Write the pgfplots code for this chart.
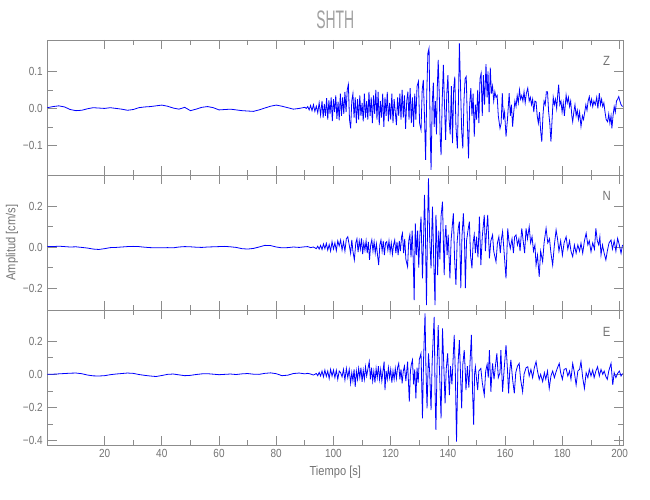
\documentclass[border=0pt]{standalone}
\usepackage{fontspec}
\setmainfont[FakeStretch=0.85]{Liberation Sans}
\newfontfamily\titlefont[FakeStretch=0.55]{Liberation Sans}
\usepackage{pgfplots}
\pgfplotsset{compat=1.18}
\usepackage{pgfplotstable}
\definecolor{axgray}{RGB}{140,140,140}
\definecolor{txtgray}{RGB}{115,115,115}
\definecolor{titlegray}{RGB}{160,160,160}
\pgfplotsset{
  seis/.style={
    scale only axis, width=432pt, height=101.25pt,
    xmin=0, xmax=201.3,
    xtick={20,40,...,200}, minor x tick num=1,
    axis line style={axgray, line width=0.6pt},
    tick style={axgray, line width=0.6pt},
    major tick length=7pt, minor tick length=4pt,
    minor y tick num=1,
    tick label style={font=\fontsize{8.8}{9}\selectfont, text=txtgray},
    label style={font=\fontsize{9.8}{10}\selectfont, text=txtgray},
  },
  trace/.style={blue, line width=0.6pt},
}
\begin{document}
\pgfplotstableread{
t v
0 0.002
2 0.005
4 0.007
6 0.004
8 -0.003
10 -0.006
12 -0.005
14 -0.001
16 0.002
18 0.001
20 0.0
22 0.002
24 0.0
26 -0.002
28 -0.005
30 -0.003
32 0.002
34 0.004
36 0.005
38 0.007
40 0.009
42 0.006
44 0.001
46 -0.002
48 0.003
50 -0.006
52 -0.002
54 0.003
56 0.005
58 0.002
60 -0.004
62 -0.003
64 -0.002
66 -0.004
68 -0.006
70 -0.007
72 -0.008
74 -0.004
76 0.001
78 0.006
80 0.009
82 0.006
84 0.002
86 -0.002
88 0.0
90.0 0.003
90.5 0.000
91.0 0.005
91.5 -0.004
92.0 0.008
92.5 -0.006
93.0 0.010
93.5 -0.008
94.0 0.006
94.5 -0.012
95.0 0.015
95.5 -0.018
96.0 0.020
96.4 -0.025
96.8 0.012
97.2 -0.020
97.6 0.028
98.0 -0.030
98.4 0.022
98.8 -0.015
99.2 0.030
99.6 -0.034
100.0 0.025
100.4 -0.010
100.8 0.035
101.2 -0.028
101.6 0.018
102.0 -0.032
102.4 0.040
102.8 -0.020
103.2 0.030
103.6 -0.015
104.0 0.045
104.4 -0.010
104.8 0.050
105.2 0.065
105.6 -0.030
106.0 -0.054
106.4 0.020
106.8 0.040
107.2 -0.025
107.6 0.030
108.0 -0.040
108.4 0.025
108.8 -0.030
109.2 0.035
109.6 -0.020
110.0 0.015
110.4 -0.035
110.8 0.040
111.2 -0.025
111.6 0.020
112.0 -0.030
112.4 0.045
112.8 -0.020
113.2 0.030
113.6 -0.040
114.0 0.035
114.4 -0.015
114.8 0.050
115.2 -0.030
115.6 0.045
116.0 -0.045
116.4 0.020
116.8 -0.025
117.2 0.040
117.6 -0.050
118.0 0.030
118.4 -0.020
118.8 0.045
119.2 -0.035
119.6 0.015
120.0 -0.030
120.4 0.040
120.8 -0.040
121.2 0.025
121.6 -0.010
122.0 -0.045
122.4 0.030
122.8 -0.020
123.2 0.040
123.6 -0.030
124.0 0.050
124.4 -0.025
124.8 0.035
125.2 -0.055
125.6 0.020
126.0 0.045
126.4 -0.030
126.8 0.055
127.2 -0.040
127.6 0.030
128.0 -0.050
128.4 0.040
128.8 -0.030
129.2 0.060
129.7 0.073
130.1 -0.040
130.6 -0.058
131.0 0.050
131.4 0.077
131.8 -0.020
132.2 -0.139
132.6 0.040
133.0 0.150
133.4 0.163
133.8 -0.060
134.1 -0.166
134.5 0.010
134.9 0.070
135.2 -0.050
135.6 0.020
136.0 -0.070
136.3 0.060
136.6 0.131
137.0 0.030
137.3 -0.080
137.6 -0.126
138.0 0.020
138.4 0.118
138.8 0.010
139.2 -0.085
139.6 0.040
140.0 0.090
140.4 -0.030
140.8 -0.070
141.2 0.060
141.6 -0.094
142.0 0.050
142.4 0.086
142.8 -0.050
143.3 -0.108
143.7 0.030
144.0 0.176
144.4 0.060
144.8 -0.060
145.2 -0.108
145.6 0.020
146.0 0.080
146.4 0.086
146.8 -0.040
147.2 -0.135
147.6 0.010
148.0 0.055
148.4 -0.020
148.8 0.040
149.2 -0.076
149.6 0.010
150.0 -0.030
150.4 0.050
150.8 -0.040
151.2 0.080
151.6 0.095
152.0 -0.020
152.4 0.090
152.8 0.010
153.3 0.120
153.7 0.030
154.0 0.100
154.4 -0.010
154.8 0.110
155.2 0.040
155.6 0.060
156.0 0.020
156.4 0.045
156.8 0.030
157.2 0.035
157.6 -0.020
158.2 -0.054
158.6 -0.040
159.0 0.041
159.4 -0.030
159.8 -0.010
160.3 -0.076
160.8 -0.030
161.4 0.041
161.8 -0.020
162.2 0.010
162.6 -0.049
163.0 -0.010
163.4 0.020
163.8 0.005
164.2 0.035
164.6 0.015
165.0 0.050
165.4 0.025
165.8 0.035
166.2 0.020
166.6 0.045
167.0 0.015
167.4 0.040
167.9 0.055
168.4 0.020
168.8 0.030
169.2 0.010
169.6 0.025
170.0 -0.010
170.4 0.020
170.8 0.018
171.2 -0.020
171.6 -0.040
172.0 -0.010
172.4 -0.060
172.8 -0.090
173.2 -0.020
173.6 0.020
174.0 0.010
174.4 0.045
174.8 0.045
175.2 -0.010
175.6 -0.040
176.0 -0.090
176.4 -0.030
176.8 0.030
177.2 0.010
177.6 0.025
178.0 0.000
178.4 0.040
178.7 0.064
179.1 0.010
179.5 0.020
179.9 -0.010
180.3 0.015
180.7 -0.020
181.3 0.036
181.7 0.015
182.1 0.030
182.5 0.005
182.9 0.020
183.3 -0.020
183.6 -0.036
184.0 -0.010
184.4 0.010
184.8 -0.020
185.2 -0.005
185.6 -0.030
186.0 -0.010
186.5 -0.049
187.0 -0.020
187.4 -0.030
187.8 -0.010
188.2 0.010
188.6 -0.005
189.0 0.020
189.4 0.032
189.8 0.010
190.2 0.025
190.6 0.005
191.0 0.020
191.5 0.010
192.0 0.030
192.4 0.000
192.9 0.041
193.3 0.010
193.7 0.025
194.1 0.005
194.5 0.015
194.9 -0.010
195.3 -0.030
195.8 -0.036
196.2 -0.015
196.6 -0.040
197.0 -0.020
197.3 -0.054
197.7 -0.020
198.1 0.005
198.5 -0.010
198.9 0.020
199.3 0.025
199.7 0.032
200.1 0.020
200.5 0.010
201.0 0.005
}\Ztab
\pgfplotstableread{
t v
0 0.003
2 0.002
4 0.004
6 0.002
8 0.0
10 0.001
12 -0.002
14 -0.005
16 -0.010
18 -0.012
20 -0.008
22 -0.003
24 -0.002
26 0.0
28 0.002
30 0.003
32 0.002
34 -0.001
36 -0.003
38 -0.004
40 -0.004
42 -0.003
44 -0.004
46 0.0
48 0.002
50 0.001
52 -0.001
54 -0.002
56 0.0
58 0.001
60 0.002
62 0.003
64 0.001
66 -0.002
68 -0.008
70 -0.010
72 -0.007
74 0.0
76 0.008
78 0.007
80 0.0
82 -0.004
84 -0.003
86 0.0
88 -0.002
90.0 0.001
91.0 0.002
92.0 -0.003
93.0 0.000
94.0 -0.008
94.5 0.004
95.0 -0.010
95.5 0.008
96.0 -0.012
96.5 0.015
97.0 -0.008
97.5 0.018
98.0 -0.015
98.5 0.012
99.0 -0.020
99.5 0.026
100.0 -0.010
100.5 0.020
101.0 -0.018
101.5 0.030
102.0 0.005
102.5 0.034
103.0 -0.015
103.5 0.025
104.0 -0.020
104.5 0.040
105.0 0.050
105.5 0.010
106.0 -0.031
106.4 0.035
106.8 -0.020
107.3 -0.063
107.8 0.020
108.2 0.040
108.6 -0.025
109.0 0.030
109.4 -0.010
109.8 0.042
110.2 -0.035
110.6 0.020
111.0 -0.015
111.4 0.030
111.8 -0.030
112.2 0.025
112.6 -0.063
113.0 0.010
113.4 0.035
113.8 -0.020
114.2 0.026
114.6 -0.030
115.0 0.015
115.4 -0.040
115.8 -0.088
116.2 0.010
116.6 0.034
117.0 -0.020
117.4 0.030
117.8 -0.039
118.2 0.020
118.6 0.026
119.0 -0.015
119.4 0.030
119.8 -0.025
120.2 0.020
120.6 -0.035
121.0 0.010
121.4 0.034
121.8 -0.030
122.2 0.025
122.6 -0.040
123.0 0.030
123.4 -0.020
123.8 0.050
124.1 0.067
124.5 -0.030
124.9 0.040
125.3 -0.060
125.9 -0.096
126.3 0.030
126.7 0.060
127.1 -0.050
127.5 0.080
127.9 -0.070
128.2 -0.259
128.6 0.115
129.0 -0.040
129.4 0.080
129.8 -0.100
130.2 0.060
130.6 0.148
131.1 -0.153
131.5 0.050
131.8 0.254
132.1 0.100
132.5 -0.283
132.9 0.120
133.2 0.335
133.6 0.050
134.1 -0.104
134.4 0.100
134.6 0.197
135.0 -0.050
135.5 -0.283
135.8 0.156
136.1 0.050
136.4 -0.137
136.8 0.080
137.2 -0.060
137.6 0.150
138.1 0.221
138.4 0.030
138.7 -0.137
139.0 0.050
139.3 0.107
139.7 -0.040
140.1 0.060
140.7 -0.153
141.1 0.030
141.5 0.100
141.9 0.164
142.3 -0.050
142.8 -0.185
143.2 0.020
143.6 0.090
144.0 0.124
144.5 -0.200
144.9 0.050
145.4 0.164
145.8 0.020
146.1 -0.200
146.5 0.030
147.0 0.080
147.5 0.124
147.9 -0.040
148.4 -0.104
148.8 0.020
149.2 0.060
149.6 -0.030
150.0 0.050
150.5 -0.050
151.0 0.148
151.5 -0.088
152.0 0.050
152.7 0.156
153.1 -0.020
153.5 0.080
153.9 0.156
154.5 -0.055
155.0 0.030
155.6 0.059
156.0 -0.020
156.8 -0.072
157.3 0.020
157.8 0.050
158.3 -0.030
158.7 0.040
159.1 0.075
159.6 -0.020
160.3 -0.153
160.9 0.091
161.3 0.030
161.8 -0.007
162.4 0.040
162.9 -0.030
163.3 0.050
163.8 0.059
164.3 0.010
164.8 0.040
165.2 -0.020
165.8 0.091
166.3 0.030
166.8 -0.030
167.3 0.091
167.8 0.040
168.4 0.099
168.9 0.020
169.4 0.050
169.9 -0.020
170.4 0.010
170.8 -0.088
171.3 -0.040
171.9 -0.145
172.4 -0.020
173.1 -0.072
173.6 0.020
174.3 0.091
174.9 0.020
175.5 0.040
176.0 -0.030
176.6 -0.088
177.2 0.010
177.8 0.083
178.3 0.040
178.8 -0.020
179.4 0.030
180.0 -0.040
180.6 0.020
181.3 0.050
181.9 -0.010
182.5 0.030
183.0 -0.020
183.6 -0.047
184.2 0.010
184.8 -0.030
185.4 0.010
186.0 -0.020
186.5 0.018
187.1 -0.030
187.7 0.030
188.3 0.067
188.9 0.010
189.4 0.030
190.0 -0.023
190.6 0.020
191.2 -0.010
191.7 0.091
192.2 0.030
192.7 0.010
193.1 0.050
193.5 -0.039
194.0 0.010
194.6 -0.030
195.2 -0.063
195.7 -0.020
196.3 0.020
197.0 0.034
197.5 -0.010
198.1 0.030
198.7 -0.020
199.3 0.042
199.9 0.010
200.5 -0.031
201.0 0.010
}\Ntab
\pgfplotstableread{
t v
0 0.0
2 0.001
4 0.003
6 0.005
8 0.007
10 0.008
12 0.004
14 -0.004
16 -0.009
18 -0.010
20 -0.008
22 -0.002
24 0.002
26 0.005
28 0.008
30 0.006
32 -0.001
34 -0.006
36 -0.010
38 -0.013
40 -0.007
42 0.0
44 0.002
46 -0.003
48 -0.008
50 -0.006
52 -0.001
54 0.003
56 0.004
58 0.001
60 -0.002
62 0.0
64 0.002
66 -0.001
68 0.003
70 0.005
72 0.001
74 0.0
76 0.006
78 0.009
80 0.004
82 -0.008
84 -0.005
86 0.005
88 0.008
90.0 0.003
91.0 0.006
92.0 0.002
93.0 -0.004
94.0 0.005
94.5 -0.008
95.0 0.012
95.5 -0.010
96.0 0.020
96.5 -0.015
97.0 0.026
97.5 -0.012
98.0 0.020
98.5 -0.025
99.0 0.030
99.5 -0.010
100.0 0.026
100.5 -0.020
101.0 0.025
101.5 -0.030
102.0 0.020
102.5 0.010
103.0 -0.015
103.5 0.030
104.0 -0.034
104.5 0.036
105.0 -0.020
105.5 0.030
106.0 -0.054
106.4 0.010
106.8 -0.040
107.2 0.030
107.6 -0.075
108.0 0.020
108.4 -0.030
108.8 0.036
109.2 -0.020
109.6 0.040
110.0 -0.045
110.4 0.025
110.8 -0.030
111.2 0.046
111.6 -0.010
112.0 0.030
112.5 0.077
112.9 -0.030
113.3 0.040
113.7 -0.040
114.1 0.020
114.5 -0.050
114.9 0.036
115.3 -0.020
115.7 0.050
116.1 -0.030
116.5 0.030
116.9 -0.040
117.3 0.020
117.7 0.077
118.0 -0.095
118.4 0.020
118.8 -0.030
119.2 0.040
119.6 -0.020
120.0 0.030
120.4 -0.050
120.8 0.020
121.2 -0.030
121.6 0.036
122.0 -0.025
122.4 0.040
122.8 0.066
123.2 -0.030
123.6 0.030
124.0 -0.054
124.4 0.020
124.8 0.050
125.3 -0.040
125.9 0.077
126.5 -0.165
126.9 0.020
127.2 0.060
127.6 0.087
128.0 -0.060
128.4 0.030
128.8 -0.145
129.2 0.040
129.6 -0.050
130.0 0.090
130.6 0.127
131.1 -0.266
131.5 0.100
132.0 0.369
132.3 0.050
132.7 -0.205
133.2 0.127
133.6 0.020
134.1 -0.216
134.5 0.080
134.8 0.200
135.2 0.348
135.5 -0.100
135.8 -0.336
136.2 0.050
136.6 0.298
137.0 0.050
137.6 -0.266
138.1 0.278
138.5 0.080
139.0 -0.175
139.4 0.030
139.9 0.127
140.5 -0.125
140.9 0.050
141.4 -0.060
142.2 0.238
142.6 0.000
143.0 -0.407
143.5 0.050
144.0 0.207
144.4 0.000
144.8 -0.205
145.2 0.060
145.7 0.147
146.1 0.000
146.3 -0.095
146.8 0.050
147.3 -0.080
147.8 0.100
148.2 0.238
148.6 -0.100
149.0 -0.306
149.3 0.000
149.6 0.046
150.0 -0.030
150.4 -0.095
150.8 0.020
151.5 0.036
152.0 -0.050
152.7 -0.125
153.2 0.020
153.7 0.060
154.1 -0.020
154.5 0.147
155.0 -0.105
155.4 0.020
155.6 0.066
156.1 -0.030
156.6 0.050
157.1 0.127
157.6 -0.020
158.2 0.010
158.5 0.147
159.1 -0.105
159.6 0.020
160.3 0.177
160.8 0.030
161.2 -0.115
161.6 0.020
162.0 0.087
162.6 -0.030
163.2 -0.115
163.7 0.010
164.3 0.050
164.9 0.066
165.4 -0.030
166.1 -0.105
166.6 0.000
167.3 0.040
167.9 0.046
168.4 -0.010
169.0 0.030
169.6 -0.020
170.2 0.040
170.8 0.077
171.3 0.020
171.9 -0.030
172.4 0.000
173.1 -0.044
173.7 0.010
174.2 -0.030
174.8 0.020
175.4 -0.085
176.0 -0.010
176.6 0.020
177.2 -0.020
177.8 0.016
178.3 0.040
178.9 0.066
179.4 0.010
180.0 -0.030
180.6 0.030
181.3 0.036
181.9 -0.010
182.5 0.020
183.0 -0.030
183.6 0.066
184.2 0.010
184.8 -0.064
185.4 0.020
186.0 0.030
186.5 0.077
187.1 -0.020
187.7 -0.085
188.3 0.010
188.9 -0.020
189.4 0.030
190.0 -0.010
190.6 0.026
191.1 -0.020
191.7 0.020
192.3 0.046
192.9 -0.010
193.5 0.030
194.1 0.000
194.6 0.020
195.2 -0.014
195.7 -0.030
196.2 0.020
197.0 0.066
197.6 -0.064
198.1 0.010
198.7 -0.020
199.3 0.006
199.9 0.020
200.5 -0.010
201.0 0.005
}\Etab
\begin{tikzpicture}
\path[use as bounding box] (0,0) rectangle (487.5pt,375pt);
\begin{axis}[seis, at={(35.5pt,345pt)}, anchor=north west,
  xticklabels={},
  ymin=-0.18, ymax=0.185, ytick={-0.1,0,0.1}, yticklabels={−0.1,0.0,0.1},
  title={SHTH},
  title style={at={(axis description cs:0.5,1.091)}, anchor=center,
    font=\titlefont\fontsize{19}{19}\selectfont, text=titlegray},
]
\addplot[trace] table[x=t,y=v] {\Ztab};
\node[font=\fontsize{10}{10}\selectfont, text=txtgray] at (rel axis cs:0.971,0.843) {Z};
\end{axis}
\begin{axis}[seis, at={(35.5pt,243.75pt)}, anchor=north west,
  xticklabels={},
  ymin=-0.307, ymax=0.351, ytick={-0.2,0,0.2}, yticklabels={−0.2,0.0,0.2},
  ylabel={Amplitud [cm/s]},
  ylabel style={at={(axis description cs:-0.0613,0.5)}, anchor=center},
]
\addplot[trace] table[x=t,y=v] {\Ntab};
\node[font=\fontsize{10}{10}\selectfont, text=txtgray] at (rel axis cs:0.971,0.847) {N};
\end{axis}
\begin{axis}[seis, at={(35.5pt,142.5pt)}, anchor=north west,
  xticklabels={20,40,60,80,100,120,140,160,180,200},
  ymin=-0.427, ymax=0.389, ytick={-0.4,-0.2,0,0.2}, yticklabels={−0.4,−0.2,0.0,0.2},
  xlabel={Tiempo [s]},
  xlabel style={at={(axis description cs:0.5,-0.2)}, anchor=center},
]
\addplot[trace] table[x=t,y=v] {\Etab};
\node[font=\fontsize{10}{10}\selectfont, text=txtgray] at (rel axis cs:0.971,0.839) {E};
\end{axis}
\end{tikzpicture}
\end{document}
